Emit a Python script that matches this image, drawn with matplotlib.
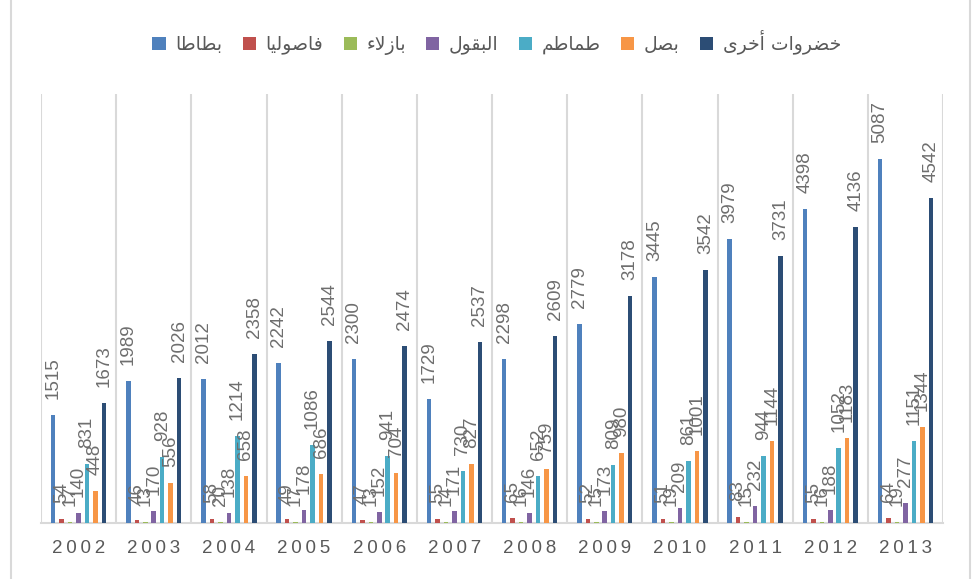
import matplotlib
matplotlib.use('Agg')
import matplotlib.pyplot as plt
from matplotlib.patches import Rectangle
import numpy as np

years = ['2002', '2003', '2004', '2005', '2006', '2007', '2008', '2009', '2010', '2011', '2012', '2013']
series_names = ['بطاطا', 'فاصوليا', 'بازلاء', 'البقول', 'طماطم', 'بصل', 'خضروات أخرى']
potato = [1515, 1989, 2012, 2242, 2300, 1729, 2298, 2779, 3445, 3979, 4398, 5087]
beans = [54, 46, 58, 49, 47, 55, 65, 52, 51, 83, 55, 64]
peas = [17, 13, 20, 17, 13, 14, 16, 15, 19, 15, 16, 19]
legumes = [140, 170, 138, 178, 152, 171, 146, 173, 209, 232, 188, 277]
tomato = [831, 928, 1214, 1086, 941, 730, 652, 809, 861, 944, 1052, 1151]
onion = [448, 556, 658, 686, 704, 827, 759, 980, 1001, 1144, 1183, 1344]
other = [1673, 2026, 2358, 2544, 2474, 2537, 2609, 3178, 3542, 3731, 4136, 4542]
colors = ['#4F81BD', '#C0504D', '#9BBB59', '#8064A2', '#4BACC6', '#F79646', '#2C4D75']

# minimal arabic shaping (matplotlib 3.10 has no bidi / shaping)
FORMS = {
    'ا': ('\uFE8D', '\uFE8E', None, None),
    'أ': ('\uFE83', '\uFE84', None, None),
    'ب': ('\uFE8F', '\uFE90', '\uFE91', '\uFE92'),
    'ت': ('\uFE95', '\uFE96', '\uFE97', '\uFE98'),
    'خ': ('\uFEA5', '\uFEA6', '\uFEA7', '\uFEA8'),
    'ر': ('\uFEAD', '\uFEAE', None, None),
    'ز': ('\uFEAF', '\uFEB0', None, None),
    'ص': ('\uFEB9', '\uFEBA', '\uFEBB', '\uFEBC'),
    'ض': ('\uFEBD', '\uFEBE', '\uFEBF', '\uFEC0'),
    'ط': ('\uFEC1', '\uFEC2', '\uFEC3', '\uFEC4'),
    'ف': ('\uFED1', '\uFED2', '\uFED3', '\uFED4'),
    'ق': ('\uFED5', '\uFED6', '\uFED7', '\uFED8'),
    'ل': ('\uFEDD', '\uFEDE', '\uFEDF', '\uFEE0'),
    'م': ('\uFEE1', '\uFEE2', '\uFEE3', '\uFEE4'),
    'و': ('\uFEED', '\uFEEE', None, None),
    'ي': ('\uFEF1', '\uFEF2', '\uFEF3', '\uFEF4'),
    'ى': ('\uFEEF', '\uFEF0', None, None),
}


def shape(s):
    chars = list(s)
    out = []
    i = 0
    while i < len(chars):
        c = chars[i]
        if c not in FORMS:
            out.append(c)
            i += 1
            continue
        prev = chars[i - 1] if i > 0 else None
        join_prev = prev in FORMS and FORMS[prev][2] is not None
        nxt = chars[i + 1] if i + 1 < len(chars) else None
        if c == 'ل' and nxt == 'ا':
            out.append('\uFEFC' if join_prev else '\uFEFB')
            i += 2
            continue
        join_next = FORMS[c][2] is not None and nxt in FORMS
        iso, fin, ini, med = FORMS[c]
        if join_prev and join_next:
            out.append(med)
        elif join_prev:
            out.append(fin)
        elif join_next:
            out.append(ini)
        else:
            out.append(iso)
        i += 1
    return ''.join(out[::-1])


data = [potato, beans, peas, legumes, tomato, onion, other]

fig = plt.figure(figsize=(9.72, 5.79), dpi=100)
ax = fig.add_axes([41 / 972, 1 - 523 / 579, 902 / 972, 429 / 579])

x = np.arange(len(years))
step = 0.113
width = 0.06
for k, (vals, name, col) in enumerate(zip(data, series_names, colors)):
    pos = x + (k - 3) * step
    ax.bar(pos, vals, width=width, color=col, label=shape(name), zorder=3)
    for px, v in zip(pos, vals):
        ax.annotate(str(v), (px, v), xytext=(0, 11.5), textcoords='offset points',
                    rotation=90, ha='center', va='bottom', fontsize=13.5,
                    family='Liberation Sans', color='#6E6E6E', zorder=4)

ax.vlines(np.arange(len(years) + 1) - 0.5, 0, 6000, color='#D9D9D9', lw=1.5, zorder=1)
ax.set_xlim(-0.5, len(years) - 0.5)
ax.set_ylim(0, 6000)
ax.set_yticks([])
ax.set_xticks(x)
ax.set_xticklabels(['\u2009'.join(y) for y in years], family='Liberation Sans',
                   fontsize=13.5, color='#595959')
ax.tick_params(axis='x', length=0, pad=12)
for s in ['left', 'right', 'top']:
    ax.spines[s].set_visible(False)
ax.spines['bottom'].set_color('#D9D9D9')
ax.spines['bottom'].set_linewidth(1.5)

leg = fig.legend(loc='center', bbox_to_anchor=(0.511, 0.927), ncol=7, frameon=False,
                 handlelength=0.7, handleheight=0.7, handletextpad=0.5,
                 columnspacing=1.1, prop={'family': 'DejaVu Sans', 'size': 13.5})
for t in leg.get_texts():
    t.set_color('#595959')

fig.patches.append(Rectangle((11 / 972, -0.01), 959 / 972, 1.02, transform=fig.transFigure,
                             fill=False, edgecolor='#D9D9D9', lw=1.5))

fig.savefig('out.png', dpi=100, facecolor='white')
